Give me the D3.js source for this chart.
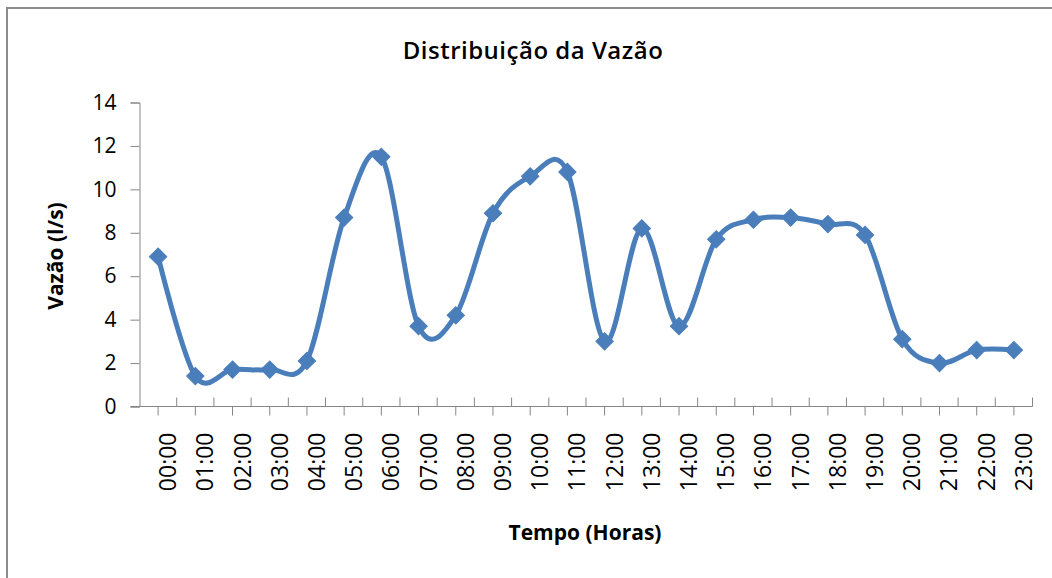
<!DOCTYPE html>
<html>
<head>
<meta charset="utf-8">
<script src="https://cdn.jsdelivr.net/npm/d3@7"></script>
<style>
  html, body { margin: 0; padding: 0; background: #fff; }
  svg { display: block; }
  text { font-family: "Open Sans", "Noto Sans", sans-serif; fill: #000; }
</style>
</head>
<body>
<svg id="chart" width="1052" height="578"></svg>
<script>
// Hourly flow distribution
const hours = ["00:00","01:00","02:00","03:00","04:00","05:00","06:00","07:00",
               "08:00","09:00","10:00","11:00","12:00","13:00","14:00","15:00",
               "16:00","17:00","18:00","19:00","20:00","21:00","22:00","23:00"];
const flow = [6.9, 1.4, 1.7, 1.7, 2.1, 8.7, 11.5, 3.7, 4.2, 8.9, 10.6, 10.8,
              3.0, 8.2, 3.7, 7.7, 8.6, 8.7, 8.4, 7.9, 3.1, 2.0, 2.6, 2.6];
const yTicks = [0, 2, 4, 6, 8, 10, 12, 14];

const titleText = "Distribuição da Vazão";
const xTitle = "Tempo (Horas)";
const yTitle = "Vazão (l/s)";

const svg = d3.select("#chart");

// chart frame
svg.append("rect")
  .attr("x", 7).attr("y", 8)
  .attr("width", 1060).attr("height", 590)
  .attr("fill", "#fff")
  .attr("stroke", "#8c8c8c")
  .attr("stroke-width", 2);

const plot = { left: 139.5, right: 1032.5, top: 102.5, bottom: 406.5 };

const x = d3.scaleBand().domain(hours).range([plot.left, plot.right]).paddingInner(0).paddingOuter(0);
const y = d3.scaleLinear().domain([0, 14]).range([plot.bottom, plot.top]);

const axisColor = "#868686";

// y axis
const yAxis = svg.append("g")
  .attr("transform", `translate(${plot.left},0)`)
  .call(d3.axisLeft(y).tickValues(yTicks).tickSize(9).tickPadding(14).tickFormat(d3.format("d")));
yAxis.select(".domain").attr("stroke", axisColor);
yAxis.selectAll(".tick line").attr("stroke", axisColor);
yAxis.selectAll(".tick text").attr("font-size", 21).attr("fill", "#000");

// x axis: boundary ticks point up, centre ticks point down
const xg = svg.append("g").attr("transform", `translate(0,${plot.bottom})`);
xg.append("line")
  .attr("x1", plot.left - 9).attr("x2", plot.right)
  .attr("stroke", axisColor);
const bounds = hours.map(h => x(h)).slice(1).concat([plot.right]);
xg.selectAll("line.bnd").data(bounds).join("line")
  .attr("class", "bnd")
  .attr("x1", d => d).attr("x2", d => d)
  .attr("y1", 0).attr("y2", -9)
  .attr("stroke", axisColor);
const xAxis = xg.append("g")
  .call(d3.axisBottom(x).tickSize(9).tickPadding(0));
xAxis.select(".domain").remove();
xAxis.selectAll(".tick line").attr("stroke", axisColor);
xAxis.selectAll(".tick text")
  .attr("font-size", 23)
  .attr("fill", "#000")
  .attr("text-anchor", "end")
  .attr("dominant-baseline", "central")
  .attr("dy", null)
  .attr("transform", "translate(0,26) rotate(-90)");

// smoothed line
const line = d3.line()
  .x((d, i) => x(hours[i]) + x.bandwidth() / 2)
  .y(d => y(d))
  .curve(d3.curveCatmullRom.alpha(0));

const blue = "#4a7ebb";
svg.append("path")
  .datum(flow)
  .attr("d", line)
  .attr("fill", "none")
  .attr("stroke", blue)
  .attr("stroke-width", 5)
  .attr("stroke-linejoin", "round");

// diamond markers
const diamond = d3.symbol().type(d3.symbolSquare).size(150);
svg.append("g").selectAll("path")
  .data(flow)
  .join("path")
  .attr("d", diamond)
  .attr("transform", (d, i) => `translate(${x(hours[i]) + x.bandwidth() / 2},${y(d)}) rotate(45)`)
  .attr("fill", blue)
  .attr("stroke", blue)
  .attr("stroke-width", 1);

// titles
svg.append("text")
  .attr("x", 533).attr("y", 59)
  .attr("text-anchor", "middle")
  .attr("font-size", 24)
  .attr("font-weight", 600)
  .attr("letter-spacing", 0.5)
  .text(titleText);

svg.append("text")
  .attr("x", 585).attr("y", 540)
  .attr("text-anchor", "middle")
  .attr("font-size", 21)
  .attr("font-weight", 700)
  .text(xTitle);

svg.append("text")
  .attr("transform", "translate(63,256) rotate(-90)")
  .attr("text-anchor", "middle")
  .attr("font-size", 21)
  .attr("font-weight", 700)
  .text(yTitle);
</script>
</body>
</html>
